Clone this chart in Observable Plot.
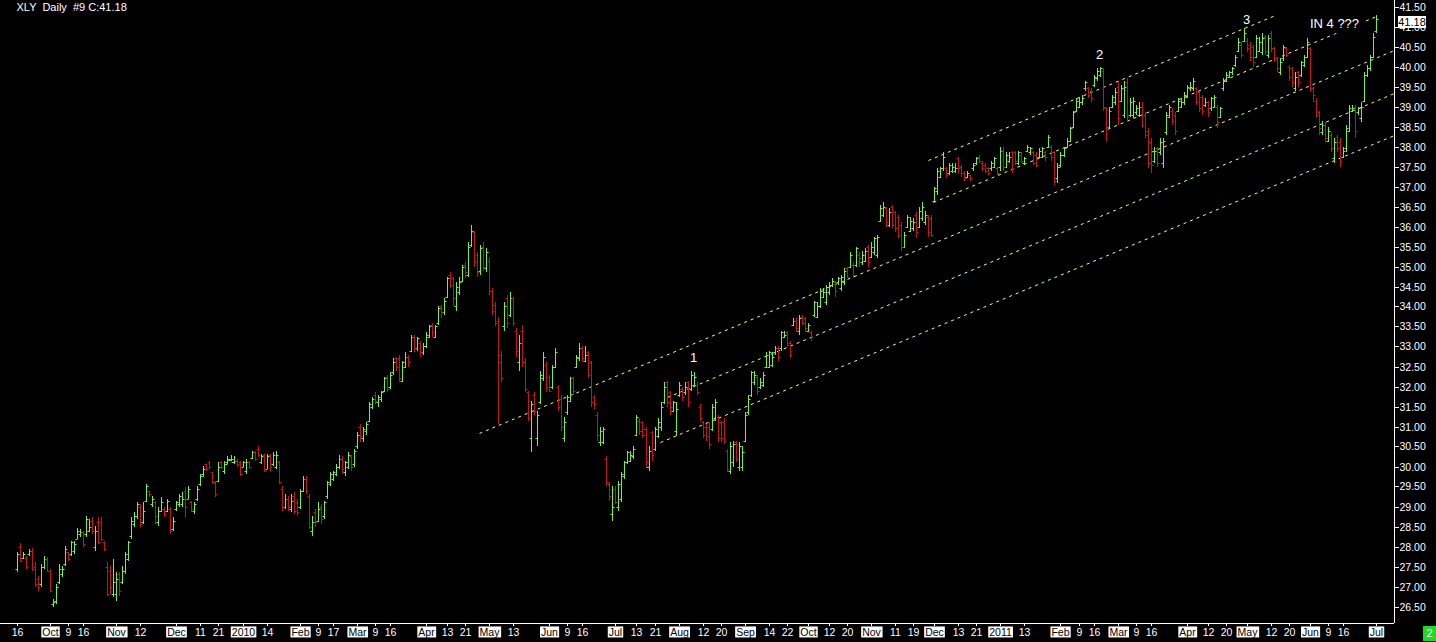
<!DOCTYPE html>
<html><head><meta charset="utf-8">
<script src="https://cdn.jsdelivr.net/npm/d3@7"></script>
<script src="https://cdn.jsdelivr.net/npm/@observablehq/plot@0.6"></script>
<style>
html,body{margin:0;padding:0;background:#000;}
#chart{width:1436px;height:642px;overflow:hidden;position:relative;}
svg{display:block;}
</style></head><body><div id="chart"></div>
<script>
// ---------- data ----------
const titleText = "XLY  Daily  #9 C:41.18";
const lastLabel = "41.18";
const startDate = "2009-09-16", endDate = "2011-07-01";
const holidays = ["2009-11-26","2009-12-25","2010-01-01","2010-01-18","2010-02-15","2010-04-02","2010-05-31","2010-07-05","2010-09-06","2010-11-25","2010-12-24","2011-01-17","2011-02-21","2011-04-22","2011-05-30"];

const opens = [
27.45,28.0,27.72,27.72,27.8,27.9,27.5,27.2,27.05,27.5,27.7,
27.4,26.55,26.65,27.1,27.3,27.55,27.85,27.8,27.9,28.2,28.3,28.35,28.3,28.4,28.65,28.0,28.6,28.6,28.1,27.5,27.4,26.8,
26.8,27.3,27.1,27.4,27.7,28.25,28.55,28.75,29.0,28.6,29.15,29.38,29.05,29.1,28.6,28.9,28.95,28.9,28.95,28.45,
28.95,29.05,29.05,29.4,29.2,29.1,28.9,29.2,29.55,29.8,30.05,30.1,29.85,29.6,29.65,30.1,29.9,30.1,30.17,30.1,30.15,30.1,
30.0,29.9,30.1,30.22,30.35,30.45,30.1,30.3,29.95,30.3,30.05,30.0,30.1,29.45,29.0,29.2,28.95,29.25,29.1,
29.0,29.4,29.7,29.25,28.4,28.85,28.65,29.0,28.75,29.25,29.55,29.7,29.8,30.0,30.2,29.85,30.0,30.25,30.05,
30.5,31.0,30.7,30.9,31.15,31.5,31.8,31.6,31.7,31.9,32.25,32.0,32.35,32.7,32.7,32.15,32.5,32.75,32.9,33.25,32.95,33.1,32.85,
33.0,33.25,33.55,33.25,33.6,34.0,33.85,34.25,34.8,34.7,34.0,34.35,34.65,35.05,34.8,35.55,35.85,35.3,34.9,35.5,34.95,
35.15,34.4,34.05,33.65,32.8,33.5,34.2,33.8,34.2,33.4,32.6,33.4,32.6,31.85,30.7,31.8,30.7,31.6,32.2,32.55,
32.25,32.0,32.5,32.0,31.7,30.7,31.35,31.65,32.2,32.5,32.7,32.95,32.65,32.85,32.6,31.75,31.3,30.6,30.6,30.2,29.55,28.8,
29.45,29.0,29.2,29.75,30.1,30.15,30.25,30.8,31.15,31.1,30.95,30.0,30.85,30.45,30.75,31.0,31.6,32.1,31.85,31.4,30.9,
31.8,31.95,31.85,32.1,31.95,32.05,32.05,31.5,31.1,31.0,31.0,30.95,31.2,31.25,31.1,31.1,30.4,29.9,30.1,30.6,30.0,30.0,
30.65,31.35,31.8,32.1,32.25,32.0,32.05,32.5,32.5,32.55,32.85,32.95,32.95,33.25,33.35,33.1,33.55,33.65,33.4,33.75,33.7,
33.4,33.35,33.8,33.75,34.0,34.25,34.1,34.35,34.55,34.6,34.6,34.45,34.6,34.95,35.0,35.05,35.05,35.3,35.1,35.15,35.5,
35.25,35.35,35.3,36.15,36.3,36.45,36.05,36.5,36.35,36.25,36.05,35.5,36.0,35.9,35.95,36.3,36.0,36.2,36.1,36.25,36.2,
36.65,36.9,37.25,37.45,37.45,37.35,37.4,37.4,37.7,37.5,37.35,37.25,37.28,37.45,37.6,37.75,37.6,37.55,37.45,37.45,37.5,37.45,
37.5,37.9,37.5,37.65,37.85,37.85,37.6,37.8,37.6,37.9,37.85,37.85,37.8,37.75,37.75,37.85,38.0,38.0,37.85,37.2,
37.55,37.8,38.0,38.15,38.5,38.9,39.0,39.1,39.45,39.45,39.4,39.55,39.7,39.8,39.9,38.95,38.5,39.0,39.1,
39.5,39.15,38.8,39.6,38.8,38.8,38.85,38.8,39.0,38.8,38.4,38.1,37.65,37.95,37.85,37.6,38.35,38.75,38.9,38.8,38.9,39.0,39.1,
39.25,39.45,39.45,39.45,39.35,39.25,39.05,39.1,38.95,39.0,39.0,38.75,39.45,39.65,39.75,39.85,40.05,40.4,40.55,40.65,
40.65,40.55,40.5,40.25,40.4,40.35,40.75,40.3,40.85,40.45,40.2,39.85,40.2,40.45,40.0,39.95,39.45,39.85,39.8,40.05,40.25,
40.45,39.45,39.15,38.85,38.35,38.55,38.15,38.3,37.7,38.25,38.1,37.75,37.95,38.4,38.9,39.0,38.85,38.7,39.15,39.8,39.95,40.25,
40.9];

const highs = [
27.86,28.09,27.85,27.77,27.94,27.97,27.6,27.27,27.57,27.77,27.73,
27.44,26.7,27.07,27.57,27.52,28.02,27.86,28.15,28.15,28.47,28.44,28.4,28.77,28.69,28.73,28.52,28.73,28.73,28.15,27.6,27.52,27.69,
27.36,27.36,27.52,27.86,28.15,28.73,28.86,29.11,29.07,29.11,29.57,29.4,29.27,29.15,28.98,29.23,28.98,29.19,28.98,28.73,
29.15,29.32,29.35,29.48,29.52,29.15,29.1,29.52,29.82,30.02,30.07,30.15,29.86,29.65,30.1,30.15,30.15,30.27,30.3,30.27,30.2,30.15,
30.15,30.2,30.15,30.4,30.4,30.52,30.32,30.32,30.32,30.32,30.36,30.4,30.15,29.5,29.3,29.25,29.3,29.35,29.2,
29.45,29.75,29.75,29.3,28.75,28.95,29.1,29.05,29.15,29.65,29.85,29.9,30.05,30.3,30.25,30.15,30.35,30.3,30.45,
30.85,31.05,31.0,31.1,31.6,31.75,31.85,31.8,31.9,32.25,32.3,32.35,32.7,32.75,32.8,32.65,32.85,32.8,33.3,33.3,33.25,33.15,33.1,
33.35,33.55,33.6,33.55,34.0,34.05,34.2,34.75,34.85,34.75,34.6,34.75,35.05,35.1,35.6,36.05,35.9,35.35,35.55,35.6,35.45,
35.2,34.45,34.1,33.75,32.9,34.1,34.3,34.35,34.25,33.45,33.3,33.55,32.7,31.9,31.65,31.85,31.4,32.4,32.85,32.6,
32.3,32.55,32.95,32.05,31.8,31.25,31.8,32.25,32.25,32.8,33.1,33.0,33.0,32.9,32.65,31.8,31.35,31.0,31.0,30.25,29.6,29.5,
29.5,29.65,29.85,30.15,30.4,30.4,30.5,31.3,31.2,31.15,31.0,30.5,30.9,31.0,31.2,31.6,32.1,32.15,31.9,31.65,31.6,
32.1,32.0,32.1,32.15,32.4,32.35,32.1,31.55,31.15,31.05,31.1,31.55,31.7,31.3,31.15,31.2,30.45,30.6,30.65,30.65,30.6,30.5,
31.35,31.8,32.4,32.4,32.3,32.2,32.35,32.85,32.9,32.85,33.0,33.0,33.4,33.4,33.4,33.15,33.7,33.7,33.8,33.8,33.75,
33.6,33.4,34.15,34.1,34.45,34.45,34.55,34.6,34.7,34.65,34.75,34.8,34.95,35.0,35.35,35.1,35.5,35.35,35.4,35.45,35.55,
35.6,35.75,35.8,36.55,36.6,36.5,36.45,36.55,36.4,36.3,36.1,35.85,36.3,36.25,36.2,36.35,36.5,36.6,36.4,36.3,36.3,
37.0,37.45,37.5,37.85,37.5,37.6,37.6,37.6,37.75,37.55,37.4,37.4,37.3,37.6,37.75,37.8,37.65,37.6,37.5,37.65,37.75,37.5,
38.0,38.0,37.85,37.85,37.9,37.9,37.9,37.85,37.75,38.05,38.0,37.9,37.85,37.95,38.0,37.9,38.3,38.05,37.9,37.6,
37.85,38.0,38.2,38.5,38.9,39.2,39.2,39.3,39.65,39.5,39.45,39.8,39.95,40.0,39.95,39.0,39.0,39.3,39.45,
39.6,39.55,39.65,39.7,39.2,39.25,39.05,39.1,39.1,38.85,38.45,38.2,38.0,38.0,38.2,38.2,38.85,39.05,38.95,38.85,39.2,39.2,39.35,
39.55,39.6,39.7,39.5,39.4,39.3,39.2,39.15,39.25,39.3,39.05,39.0,39.7,39.85,39.9,40.0,40.3,40.7,40.6,40.95,
40.7,40.6,40.55,40.8,40.75,40.85,40.8,40.8,40.9,40.5,40.25,40.2,40.55,40.5,40.05,40.0,39.85,39.9,40.15,40.3,40.7,
40.5,39.5,39.2,38.9,38.65,38.6,38.5,38.35,38.2,38.3,38.2,38.0,38.55,39.05,39.05,39.05,39.0,39.1,39.85,40.05,40.3,40.85,
41.3];

const lows = [
27.36,27.6,27.7,27.44,27.77,27.4,27.0,26.9,27.0,27.44,27.36,
26.86,26.48,26.57,27.07,27.23,27.52,27.65,27.77,27.82,28.19,28.23,27.98,28.23,28.36,28.32,27.9,28.07,28.15,27.9,26.77,26.82,26.73,
26.65,26.77,27.07,27.32,27.65,28.19,28.48,28.69,28.48,28.57,29.11,29.23,28.98,28.57,28.52,28.86,28.73,28.86,28.32,28.4,
28.9,28.98,29.0,28.73,29.19,28.86,28.82,29.15,29.52,29.73,29.9,29.94,29.57,29.23,29.6,29.94,29.82,30.07,30.15,30.07,30.0,29.77,
29.98,29.82,29.95,30.2,30.15,30.23,30.07,29.86,29.94,29.86,30.02,29.94,29.57,28.9,28.95,28.9,28.85,28.8,28.75,
28.95,29.35,29.3,28.45,28.25,28.5,28.6,28.55,28.7,29.2,29.5,29.65,29.75,29.95,29.8,29.75,29.95,29.9,30.0,
30.45,30.6,30.6,30.8,31.1,31.45,31.55,31.5,31.6,31.85,31.85,31.95,32.3,32.4,32.1,32.1,32.45,32.5,32.85,32.85,32.9,32.75,32.8,
32.95,33.2,33.25,33.2,33.55,33.7,33.8,34.2,34.45,34.0,33.9,34.3,34.6,34.7,34.75,35.5,35.0,34.75,34.8,34.9,34.85,
34.3,33.8,33.5,31.05,32.1,33.4,33.45,33.75,33.5,32.75,32.4,32.5,31.85,31.15,30.35,31.3,30.5,31.55,32.15,31.85,
31.85,31.95,32.45,31.4,30.9,30.6,31.3,31.6,31.8,32.45,32.65,32.6,32.6,32.2,31.5,31.45,30.65,30.5,30.55,29.5,29.15,28.65,
29.05,28.9,29.1,29.7,30.05,30.1,30.2,30.75,30.8,30.7,30.0,29.9,30.15,30.4,30.7,30.9,31.55,31.5,31.3,31.35,30.75,
31.75,31.65,31.8,31.5,31.9,32.0,31.8,31.15,30.7,30.65,30.45,30.9,31.15,30.6,30.6,30.55,29.85,29.8,30.0,30.1,29.9,29.9,
30.6,31.3,31.75,32.05,31.8,31.95,32.0,32.45,32.45,32.5,32.8,32.65,32.9,33.2,33.0,32.7,33.5,33.35,33.3,33.55,33.35,
33.35,33.15,33.75,33.7,33.95,34.2,34.05,34.3,34.5,34.25,34.55,34.4,34.55,34.7,34.95,34.7,35.0,35.0,35.05,35.1,35.0,
35.2,35.3,35.2,36.1,36.25,36.0,36.0,35.95,35.85,35.7,35.4,35.45,35.95,35.85,35.9,35.7,35.95,36.15,36.05,35.75,35.75,
36.6,36.8,37.2,37.4,37.2,37.3,37.35,37.35,37.35,37.25,37.15,37.2,37.15,37.4,37.55,37.6,37.4,37.35,37.3,37.4,37.45,37.3,
37.4,37.4,37.45,37.6,37.35,37.55,37.55,37.6,37.55,37.85,37.8,37.55,37.5,37.7,37.7,37.65,37.95,37.65,37.05,37.1,
37.5,37.75,37.95,38.1,38.45,38.85,38.95,39.05,39.4,39.2,39.1,39.5,39.65,39.75,38.9,38.1,38.45,38.95,39.05,
38.55,39.1,38.7,38.6,38.75,38.7,38.8,38.75,38.45,38.2,37.45,37.35,37.6,37.5,37.8,37.45,38.3,38.7,38.55,38.3,38.85,38.95,39.05,
39.2,39.4,39.4,39.05,38.85,38.8,39.0,38.75,38.9,38.95,38.45,38.7,39.4,39.6,39.7,39.8,40.0,40.35,40.2,40.6,
40.35,40.15,40.0,40.2,40.35,40.3,40.3,40.2,40.35,40.1,39.85,39.8,40.15,40.25,39.65,39.5,39.4,39.5,39.75,40.0,40.2,
39.35,39.1,38.7,38.3,38.3,38.1,38.1,37.85,37.6,37.85,37.5,37.7,37.85,38.35,38.85,38.2,38.8,38.6,39.1,39.75,39.9,40.2,
40.85];

const closes = [
27.8,27.65,27.8,27.5,27.9,27.45,27.05,27.0,27.5,27.7,27.4,
26.9,26.6,27.0,27.45,27.45,27.95,27.7,28.1,28.05,28.4,28.35,28.05,28.7,28.5,28.4,28.4,28.1,28.2,27.95,26.8,27.0,27.1,
27.2,26.9,27.4,27.8,28.1,28.65,28.75,29.05,28.55,28.9,29.5,29.3,29.2,28.75,28.9,29.1,28.8,29.15,28.4,28.65,
29.1,29.25,29.2,29.0,29.45,28.95,29.05,29.45,29.75,29.95,29.95,30.0,29.6,29.3,30.0,30.0,30.05,30.2,30.2,30.15,30.05,29.8,
30.1,30.1,30.0,30.35,30.2,30.3,30.25,29.9,30.25,30.0,30.3,30.3,29.6,29.0,29.2,29.0,29.15,28.9,28.85,
29.4,29.7,29.4,28.5,28.6,28.6,28.95,28.7,29.1,29.6,29.8,29.85,30.0,30.2,29.95,30.1,30.3,30.0,30.4,
30.8,30.75,30.95,31.05,31.55,31.7,31.65,31.75,31.85,32.2,31.95,32.3,32.6,32.5,32.2,32.6,32.75,32.6,33.25,32.95,33.2,32.85,33.0,
33.3,33.5,33.35,33.5,33.95,33.85,34.15,34.7,34.55,34.2,34.5,34.6,35.0,34.85,35.5,35.9,35.1,34.85,35.45,35.0,35.35,
34.4,33.9,33.6,32.6,32.2,34.0,33.6,34.2,33.6,32.9,33.1,32.6,31.95,31.2,31.55,31.4,31.3,32.3,32.75,32.0,
31.9,32.5,32.85,31.5,31.0,31.1,31.75,32.2,31.9,32.75,32.95,32.7,32.8,32.3,31.6,31.55,30.8,30.9,30.95,29.6,29.25,29.0,
29.1,29.55,29.8,30.1,30.35,30.3,30.45,31.25,30.9,30.8,30.1,30.4,30.3,30.95,31.1,31.5,32.0,31.6,31.5,31.6,31.45,
32.05,31.75,32.0,31.6,32.3,32.25,31.85,31.2,30.8,30.75,30.55,31.5,31.6,30.7,30.7,30.65,29.95,30.5,30.55,30.2,30.5,30.35,
31.3,31.7,32.35,32.3,31.9,32.1,32.3,32.8,32.85,32.75,32.95,32.75,33.35,33.3,33.05,32.8,33.65,33.45,33.7,33.6,33.45,
33.55,33.25,34.1,34.0,34.4,34.35,34.5,34.55,34.65,34.4,34.7,34.75,34.9,34.75,35.3,34.8,35.45,35.2,35.3,35.4,35.1,
35.5,35.7,35.75,36.45,36.5,36.1,36.35,36.05,35.95,35.8,35.5,35.8,36.25,36.15,36.1,35.85,36.4,36.5,36.3,35.85,35.8,
36.95,37.4,37.45,37.75,37.3,37.55,37.5,37.45,37.45,37.35,37.2,37.35,37.2,37.55,37.7,37.65,37.45,37.4,37.35,37.6,37.7,37.35,
37.9,37.5,37.8,37.75,37.45,37.65,37.85,37.65,37.7,38.0,37.95,37.6,37.55,37.9,37.95,37.75,38.25,37.75,37.15,37.5,
37.8,37.95,38.15,38.45,38.85,39.15,39.1,39.2,39.6,39.3,39.2,39.75,39.9,39.95,39.0,38.5,38.9,39.25,39.35,
38.7,39.45,39.5,38.75,39.1,39.15,38.95,39.0,38.55,38.3,37.6,37.55,37.9,37.6,38.1,38.15,38.8,39.0,38.65,38.4,39.15,39.1,39.3,
39.5,39.5,39.65,39.1,38.95,38.9,39.1,38.85,39.2,39.25,38.6,38.95,39.65,39.8,39.85,39.95,40.25,40.6,40.3,40.85,
40.45,40.25,40.1,40.7,40.6,40.7,40.4,40.7,40.45,40.2,39.95,40.1,40.5,40.3,39.75,39.6,39.75,39.6,40.1,40.25,40.6,
39.45,39.3,38.8,38.45,38.55,38.2,38.4,37.95,38.1,37.95,37.65,37.9,38.45,38.95,38.95,38.4,38.95,39.0,39.8,39.95,40.25,40.75,
41.18];

// x-axis tick dates and their labels
const tickDates = ["2009-09-16","2009-10-01","2009-10-09","2009-10-16","2009-11-02","2009-11-12","2009-12-01","2009-12-11","2009-12-21","2010-01-04","2010-01-14","2010-02-01","2010-02-09","2010-02-17","2010-03-01","2010-03-09","2010-03-16","2010-04-01","2010-04-13","2010-04-21","2010-05-03","2010-05-13","2010-06-01","2010-06-09","2010-06-16","2010-07-01","2010-07-13","2010-07-21","2010-08-02","2010-08-12","2010-08-20","2010-09-01","2010-09-14","2010-09-22","2010-10-01","2010-10-12","2010-10-20","2010-11-01","2010-11-11","2010-11-19","2010-12-01","2010-12-13","2010-12-21","2011-01-03","2011-01-13","2011-02-01","2011-02-09","2011-02-16","2011-03-01","2011-03-09","2011-03-16","2011-04-01","2011-04-12","2011-04-20","2011-05-02","2011-05-12","2011-05-20","2011-06-01","2011-06-09","2011-06-16","2011-07-01"];
const tickLabels = ["16","Oct","9","16","Nov","12","Dec","11","21","2010","14","Feb","9","17","Mar","9","16","Apr","13","21","May","13","Jun","9","16","Jul","13","21","Aug","12","20","Sep","14","22","Oct","12","20","Nov","11","19","Dec","13","21","2011","13","Feb","9","16","Mar","9","16","Apr","12","20","May","12","20","Jun","9","16","Jul"];

// y-axis ticks (price levels)
const yTicks = [26.5,27,27.5,28,28.5,29,29.5,30,30.5,31,31.5,32,32.5,33,33.5,34,34.5,35,35.5,36,36.5,37,37.5,38,38.5,39,39.5,40,40.5,41,41.5];

// dashed trend-channel lines: [start bar, start price, end bar, end price]
const channelStartBar = [153.6, 216.2, 213.8, 303.0, 304.6];
const channelStartPx  = [30.84, 31.74, 30.61, 37.66, 36.61];
const channelEndBar   = [457.9, 457.9, 457.9, 418.4, 451.9];
const channelEndPx    = [40.41, 39.34, 38.29, 41.29, 41.26];

// wave annotations
const noteText = ["1", "2", "3"];
const noteBar = [224.9, 359.9, 408.7];
const notePx  = [32.74, 40.31, 41.19];
const note4Text = "IN 4 ???", note4Bar = 437.9, note4Px = 41.08;

// ---------- build ----------
function tradingDays(start, end, hol) {
  const hs = new Set(hol), out = [];
  for (let t = Date.parse(start + "T00:00:00Z"); t <= Date.parse(end + "T00:00:00Z"); t += 864e5) {
    const d = new Date(t), wd = d.getUTCDay(), s = d.toISOString().slice(0, 10);
    if (wd !== 0 && wd !== 6 && !hs.has(s)) out.push(s);
  }
  return out;
}
const days = tradingDays(startDate, endDate, holidays);
const bars = closes.map((c, i) => ({i, o: opens[i], h: highs[i], l: lows[i], c}));
const up = bars.filter(d => d.c >= d.o), down = bars.filter(d => d.c < d.o);
const tickIdx = tickDates.map(d => days.indexOf(d));
const labelOf = new Map(tickIdx.map((t, k) => [t, tickLabels[k]]));
const channels = channelStartBar.map((b, k) => ({x1: b, y1: channelStartPx[k], x2: channelEndBar[k], y2: channelEndPx[k]}));
const notes = noteText.map((t, k) => ({t, x: noteBar[k], y: notePx[k]}));

const GREEN = "#78f03c", RED = "#c81414", YELLOW = "#ffff6e";
const xDomain = [-5.65, 457.9], yDomain = [26.0875, 41.6625];
const FONT = "'Liberation Sans', Arial, sans-serif";

function barMarks(data, color) {
  return [
    Plot.ruleX(data, {x: "i", y1: "l", y2: "h", stroke: color, strokeWidth: 1}),
    Plot.link(data, {x1: d => d.i - 0.67, x2: "i", y1: "o", y2: "o", stroke: color, strokeWidth: 1}),
    Plot.link(data, {x1: "i", x2: d => d.i + 0.67, y1: "c", y2: "c", stroke: color, strokeWidth: 1})
  ];
}

const chart = Plot.plot({
  width: 1436, height: 642,
  marginLeft: 0, marginRight: 42, marginTop: 0, marginBottom: 19,
  style: {background: "#000", color: "#fff", fontFamily: FONT, overflow: "visible"},
  x: {domain: xDomain, round: true, axis: null},
  y: {domain: yDomain, round: true, axis: null},
  marks: [
    Plot.link(channels, {x1: "x1", y1: "y1", x2: "x2", y2: "y2", stroke: YELLOW, strokeWidth: 1, strokeDasharray: "3,4"}),
    ...barMarks(up, GREEN),
    ...barMarks(down, RED),
    Plot.text(notes, {x: "x", y: "y", text: "t", fill: "#fff", fontSize: 13, lineAnchor: "middle"}),
    Plot.text([note4Text], {x: () => note4Bar, y: () => note4Px, text: d => d, fill: "#fff", fontSize: 13, lineAnchor: "middle", stroke: "#000", strokeWidth: 12}),
    Plot.text([titleText], {frameAnchor: "top-left", dx: 16, dy: 3, text: d => d, fill: "#fff", fontSize: 11, textAnchor: "start", lineAnchor: "top"}),
    Plot.ruleX([xDomain[1]], {stroke: "#fff"}),
    Plot.ruleY([yDomain[0]], {stroke: "#fff"}),
    Plot.axisY(yTicks, {anchor: "right", tickFormat: d => d.toFixed(2), tickSize: 4, tickPadding: 1, fontSize: 10.5, color: "#fff", textAnchor: "start"}),
    Plot.axisX(tickIdx, {anchor: "bottom", tickFormat: d => labelOf.get(d), tickSize: 3, tickPadding: 2, fontSize: 10.5, color: "#fff"})
  ]
});
document.getElementById("chart").appendChild(chart);

// ---------- decorations ----------
const svg = d3.select(chart);
svg.selectAll('g[aria-label="x-axis tick label"] text').each(function () {
  const t = this.textContent;
  if (/^[A-Za-z]/.test(t) || /^\d{4}$/.test(t)) {
    const b = this.getBBox();
    d3.select(this.parentNode).insert("rect", () => this)
      .attr("transform", this.getAttribute("transform"))
      .attr("x", b.x - 1).attr("y", b.y + 0.5).attr("width", b.width + 2).attr("height", b.height - 1)
      .attr("fill", "#fff").attr("stroke", "none");
    d3.select(this).attr("fill", "#000");
  }
});
const ys = chart.scale("y"), xs = chart.scale("x");
const yLast = ys.apply(closes[closes.length - 1]);
const xAxis = xs.apply(xDomain[1]);
const g = svg.append("g").attr("font-family", FONT);
g.append("rect").attr("x", xAxis + 4).attr("y", yLast - 3).attr("width", 28).attr("height", 12).attr("fill", "#fff");
g.append("text").attr("x", xAxis + 18).attr("y", yLast + 3).attr("dy", "0.35em").attr("text-anchor", "middle")
  .attr("font-size", 11).attr("fill", "#000").text(lastLabel);
g.append("rect").attr("x", 1423).attr("y", 626).attr("width", 13).attr("height", 15).attr("fill", "#22d822");
g.append("text").attr("x", 1429.5).attr("y", 633.5).attr("dy", "0.35em").attr("text-anchor", "middle")
  .attr("font-size", 11).attr("fill", "#fff").text("2");
</script>
</body></html>
